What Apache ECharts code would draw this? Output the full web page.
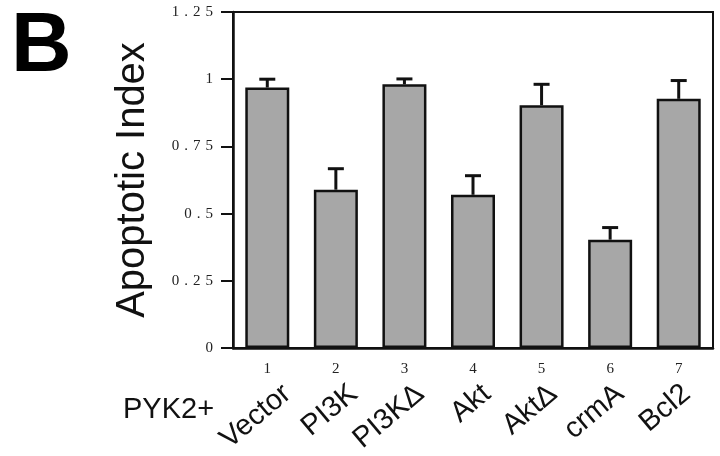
<!DOCTYPE html>
<html>
<head>
<meta charset="utf-8">
<script src="https://cdn.jsdelivr.net/npm/echarts@6/dist/echarts.min.js"></script>
<style>
html,body{margin:0;padding:0;background:#fff;}
#chart{width:720px;height:456px;}
</style>
</head>
<body>
<div id="chart"></div>
<script>
// Data
const laneNumbers = ['1', '2', '3', '4', '5', '6', '7'];
const constructs = ['Vector', 'PI3K', 'PI3K\u0394', 'Akt', 'Akt\u0394', 'crmA', 'Bcl2'];
const apoptoticIndex = [0.969, 0.589, 0.981, 0.570, 0.903, 0.403, 0.927];
const errorUpper = [0.031, 0.078, 0.020, 0.071, 0.078, 0.045, 0.068];
const yTicks = [0, 0.25, 0.5, 0.75, 1, 1.25];

const errData = laneNumbers.map((c, i) => [i, apoptoticIndex[i], apoptoticIndex[i] + errorUpper[i]]);
const spaced = v => String(v).split('').join('\u2004');

const chart = echarts.init(document.getElementById('chart'), null, {renderer: 'canvas'});
chart.setOption({
  animation: false,
  backgroundColor: '#ffffff',
  title: [
    {text: 'B', left: 6, top: 1, textStyle: {fontFamily: 'Liberation Sans', fontSize: 84, fontWeight: 'bold', color: '#000'}},
    {text: 'PYK2+', left: 118, top: 390, textStyle: {fontFamily: 'Liberation Sans', fontSize: 29, fontWeight: 'normal', color: '#111'}}
  ],
  grid: [
    {left: 233, right: 7, top: 12, bottom: 108, show: true, borderColor: '#111', borderWidth: 2},
    {left: 254, right: -14, top: 12, bottom: 108, show: false}
  ],
  xAxis: [
    {
      type: 'category', gridIndex: 0, data: laneNumbers,
      axisLine: {lineStyle: {color: '#111', width: 2.5}},
      axisTick: {alignWithLabel: true, length: 9, lineStyle: {color: '#111', width: 2}},
      axisLabel: {interval: 0, margin: 14, fontFamily: 'Liberation Serif', fontSize: 15, color: '#222'}
    },
    {
      type: 'category', gridIndex: 1, data: constructs,
      axisLine: {show: false}, axisTick: {show: false},
      axisLabel: {interval: 0, rotate: 40, margin: 54, fontFamily: 'Liberation Sans', fontSize: 29, color: '#111'}
    }
  ],
  yAxis: [
    {
      type: 'value', gridIndex: 0, min: 0, max: 1.25, interval: 0.25,
      name: 'Apoptotic Index', nameLocation: 'middle', nameGap: 80,
      nameTextStyle: {fontFamily: 'Liberation Sans', fontSize: 40, color: '#111'},
      splitLine: {show: false},
      axisLine: {show: true, lineStyle: {color: '#111', width: 2.5}},
      axisTick: {show: true, length: 12, lineStyle: {color: '#111', width: 2}},
      axisLabel: {margin: 20, fontFamily: 'Liberation Serif', fontSize: 15, color: '#222', formatter: v => spaced(v)}
    },
    {type: 'value', gridIndex: 1, min: 0, max: 1.25, show: false}
  ],
  series: [
    {
      type: 'bar', xAxisIndex: 0, yAxisIndex: 0, data: apoptoticIndex, barWidth: 44,
      itemStyle: {color: '#a7a7a7', borderColor: '#111', borderWidth: 2.5},
      z: 2
    },
    {
      type: 'custom', xAxisIndex: 0, yAxisIndex: 0, data: errData,
      encode: {x: 0, y: [1, 2]}, z: 3,
      renderItem: (params, api) => {
        const base = api.coord([api.value(0), api.value(1)]);
        const top = api.coord([api.value(0), api.value(2)]);
        const half = 8;
        const style = {stroke: '#111', lineWidth: 3};
        return {
          type: 'group',
          children: [
            {type: 'line', shape: {x1: base[0], y1: base[1], x2: top[0], y2: top[1]}, style},
            {type: 'line', shape: {x1: top[0] - half, y1: top[1], x2: top[0] + half, y2: top[1]}, style}
          ]
        };
      }
    }
  ]
});
</script>
</body>
</html>
